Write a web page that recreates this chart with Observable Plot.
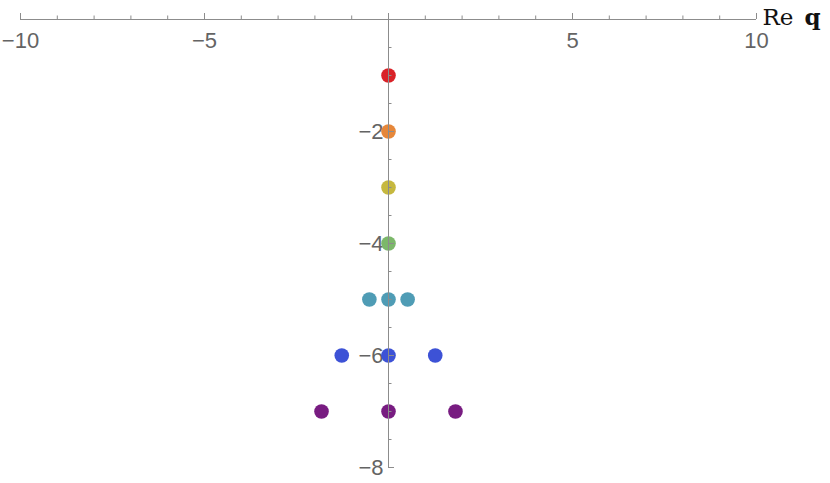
<!DOCTYPE html>
<html>
<head>
<meta charset="utf-8">
<script src="https://cdn.jsdelivr.net/npm/d3@7"></script>
<script src="https://cdn.jsdelivr.net/npm/@observablehq/plot@0.6"></script>
<style>
  html, body { margin: 0; padding: 0; background: #fff; }
  svg { display: block; }
</style>
</head>
<body>
<div id="chart"></div>
<script>
// Data
const levels = [-1, -2, -3, -4, -5, -6, -7];
const xPoints = [
  [0],
  [0],
  [0],
  [0],
  [-0.52, 0, 0.52],
  [-1.27, 0, 1.27],
  [-1.82, 0, 1.82]
];
const levelColors = ["#d92228", "#e6873a", "#c6b83e", "#7cb86a", "#4f9cb5", "#3d52d6", "#781c81"];

const xMajor = [-10, -5, 5, 10];
const xMinor = [-9, -8, -7, -6, -4, -3, -2, -1, 1, 2, 3, 4, 6, 7, 8, 9];
const yMajor = [-2, -4, -6, -8];
const yMinor = [-0.5, -1, -1.5, -2.5, -3, -3.5, -4.5, -5, -5.5, -6.5, -7, -7.5];

const points = levels.flatMap((lv, i) => xPoints[i].map(x => ({x, y: lv, level: lv})));

const fmt = d => (d < 0 ? "\u2212" + Math.abs(d) : String(d));
const axisColor = "#8c8c8c";
const labelColor = "#646464";
const font = "Liberation Sans, Arial, sans-serif";
const serif = "DejaVu Serif, Liberation Serif, serif";

const chart = Plot.plot({
  width: 830,
  height: 483,
  marginLeft: 20,
  marginRight: 74,
  marginTop: 19,
  marginBottom: 16,
  x: {domain: [-10, 10], axis: null},
  y: {domain: [-8, 0], axis: null},
  color: {type: "ordinal", domain: levels, range: levelColors},
  style: {fontFamily: font, overflow: "visible"},
  marks: [
    // tick labels
    Plot.text(xMajor, {x: d => d, y: 0, dy: 21, text: fmt, fontSize: 22, fill: labelColor, fontFamily: font}),
    Plot.text(yMajor, {x: 0, y: d => d, dx: -5, textAnchor: "end", text: fmt, fontSize: 22, fill: labelColor, fontFamily: font}),
    // points
    Plot.dot(points, {x: "x", y: "y", fill: "level", r: 7.3, stroke: null}),
    // x axis
    Plot.ruleY([0], {x1: -10, x2: 10, stroke: axisColor, strokeWidth: 1}),
    Plot.ruleX(xMajor, {x: d => d, y1: 0, y2: 0, insetTop: -6, stroke: axisColor}),
    Plot.ruleX(xMinor, {x: d => d, y1: 0, y2: 0, insetTop: -3.5, stroke: axisColor}),
    // y axis
    Plot.ruleX([0], {y1: 0, y2: -8, insetTop: -6, stroke: axisColor, strokeWidth: 1}),
    Plot.ruleY(yMajor, {y: d => d, x1: 0, x2: 0, insetRight: -6, stroke: axisColor}),
    Plot.ruleY(yMinor, {y: d => d, x1: 0, x2: 0, insetRight: -3.5, stroke: axisColor}),
    // axis label "Re q"
    Plot.text(["Re"], {x: 10, y: 0, dx: 6, dy: -2, textAnchor: "start", text: d => d, fontSize: 23, fill: "#111", fontFamily: serif}),
    Plot.text(["q"], {x: 10, y: 0, dx: 48, dy: -2, textAnchor: "start", text: d => d, fontSize: 23, fontWeight: "bold", fill: "#111", fontFamily: serif})
  ]
});
document.getElementById("chart").appendChild(chart);
</script>
</body>
</html>
